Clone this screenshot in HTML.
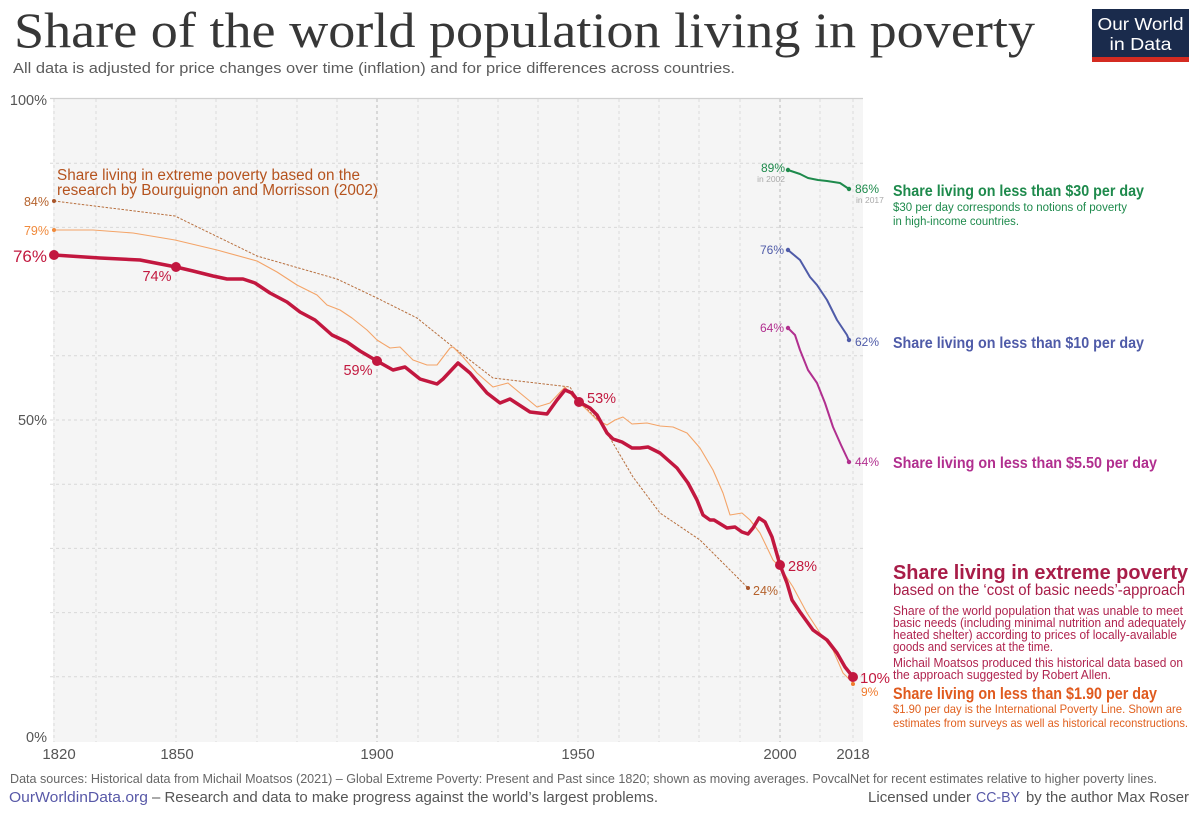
<!DOCTYPE html>
<html>
<head>
<meta charset="utf-8">
<style>
  html,body{margin:0;padding:0;background:#fff;}
  svg{display:block;}
  text{font-family:"Liberation Sans","DejaVu Sans",sans-serif;}
  .serif{font-family:"Liberation Serif","DejaVu Serif",serif;}
</style>
</head>
<body>
<svg width="1198" height="817" viewBox="0 0 1198 817" xmlns="http://www.w3.org/2000/svg">
  <rect x="0" y="0" width="1198" height="817" fill="#fff"/>

  <!-- Title -->
  <text class="serif" x="14" y="47" font-size="50" fill="#373737" textLength="1021" lengthAdjust="spacingAndGlyphs">Share of the world population living in poverty</text>
  <text x="13" y="73" font-size="15" fill="#5b5b5b" textLength="722" lengthAdjust="spacingAndGlyphs">All data is adjusted for price changes over time (inflation) and for price differences across countries.</text>

  <!-- Logo -->
  <rect x="1092" y="9" width="97" height="53" fill="#1a2b4c"/>
  <rect x="1092" y="57" width="97" height="5" fill="#d42b21"/>
  <text x="1140.5" y="30" font-size="17.5" fill="#fff" text-anchor="middle" textLength="86" lengthAdjust="spacingAndGlyphs">Our World</text>
  <text x="1140.5" y="50" font-size="17.5" fill="#fff" text-anchor="middle" textLength="62" lengthAdjust="spacingAndGlyphs">in Data</text>

  <!-- Plot background -->
  <rect x="53" y="99" width="810" height="643" fill="#f5f5f5"/>

  <!-- Horizontal gridlines -->
  <g stroke="#d8d8d8" stroke-width="1" stroke-dasharray="3,3">
    <line x1="50" y1="163.2" x2="863" y2="163.2"/>
    <line x1="50" y1="227.4" x2="863" y2="227.4"/>
    <line x1="50" y1="291.6" x2="863" y2="291.6"/>
    <line x1="50" y1="355.8" x2="863" y2="355.8"/>
    <line x1="50" y1="420" x2="863" y2="420"/>
    <line x1="50" y1="484.2" x2="863" y2="484.2"/>
    <line x1="50" y1="548.4" x2="863" y2="548.4"/>
    <line x1="50" y1="612.6" x2="863" y2="612.6"/>
    <line x1="50" y1="676.8" x2="863" y2="676.8"/>
  </g>
  <line x1="50" y1="98.5" x2="863" y2="98.5" stroke="#d0d0d0" stroke-width="1.2"/>

  <!-- Vertical gridlines -->
  <g stroke="#dadada" stroke-width="1" stroke-dasharray="3,3">
    <line x1="54" y1="99" x2="54" y2="742"/>
    <line x1="96" y1="99" x2="96" y2="742"/>
    <line x1="176" y1="99" x2="176" y2="742"/>
    <line x1="216" y1="99" x2="216" y2="742"/>
    <line x1="257" y1="99" x2="257" y2="742"/>
    <line x1="297" y1="99" x2="297" y2="742"/>
    <line x1="337" y1="99" x2="337" y2="742"/>
    <line x1="418" y1="99" x2="418" y2="742"/>
    <line x1="458" y1="99" x2="458" y2="742"/>
    <line x1="498" y1="99" x2="498" y2="742"/>
    <line x1="538" y1="99" x2="538" y2="742"/>
    <line x1="578" y1="99" x2="578" y2="742"/>
    <line x1="619" y1="99" x2="619" y2="742"/>
    <line x1="659" y1="99" x2="659" y2="742"/>
    <line x1="699" y1="99" x2="699" y2="742"/>
    <line x1="740" y1="99" x2="740" y2="742"/>
    <line x1="820" y1="99" x2="820" y2="742"/>
    <line x1="853" y1="99" x2="853" y2="742"/>
  </g>
  <g stroke="#bcbcbc" stroke-width="1" stroke-dasharray="3,3">
    <line x1="377" y1="99" x2="377" y2="742"/>
    <line x1="780" y1="99" x2="780" y2="742"/>
  </g>

  <!-- Axis labels -->
  <g font-size="14.5" fill="#555">
    <text x="47" y="105" text-anchor="end">100%</text>
    <text x="47" y="425" text-anchor="end">50%</text>
    <text x="47" y="742" text-anchor="end">0%</text>
  </g>
  <g font-size="15" fill="#555" text-anchor="middle">
    <text x="59" y="759">1820</text>
    <text x="177" y="759">1850</text>
    <text x="377" y="759">1900</text>
    <text x="578" y="759">1950</text>
    <text x="780" y="759">2000</text>
    <text x="853" y="759">2018</text>
  </g>

  <!-- Bourguignon & Morrisson dashed -->
  <polyline fill="none" stroke="#b8703f" stroke-width="1" stroke-dasharray="2.5,1.5" points="54,201 175,216 257,256 337,279 377,298 417,318 453,347 493,378 570,387 578,400 600,422 613,443 633,477 660,513 700,540 717,557 748,588"/>
  <circle cx="54" cy="201" r="2" fill="#a9552a"/>
  <circle cx="748" cy="588" r="2" fill="#a9552a"/>

  <!-- $1.90 light orange -->
  <polyline fill="none" stroke="#f4a468" stroke-width="1.1" stroke-linejoin="round" points="54,230 93,230 133,233 175,240 217,250 257,261 277,272 297,285 317,295 327,305 340,310 352,318 367,330 377,340 390,348 400,347 413,360 427,365 437,365 450,348 453,347 463,357 477,373 493,387 508,383 520,393 537,407 550,403 565,387 573,397 587,410 597,420 607,425 615,420 623,417 632,424 647,423 660,426 673,427 687,433 700,448 713,470 723,493 730,515 742,513 750,520 760,533 773,560 780,567 793,587 807,613 820,633 833,650 843,673 853,683"/>
  <circle cx="54" cy="230" r="2" fill="#f08a3c"/>
  <circle cx="853" cy="684" r="2" fill="#f07a2c"/>

  <!-- Main extreme poverty (CBN) -->
  <polyline fill="none" stroke="#c2173f" stroke-width="3.5" stroke-linejoin="round" stroke-linecap="round" points="54,255 100,258 140,260 176,267 193,271 213,276 227,279 243,279 255,283 270,293 287,302 300,312 315,320 332,335 347,342 360,351 377,361 393,370 405,367 420,379 437,384 443,379 458,363 470,373 487,393 500,403 510,399 530,412 547,414 557,400 565,390 572,393 579,402 590,408 597,415 607,433 613,439 622,442 632,448 640,448 648,447 660,453 677,468 688,483 697,500 703,515 710,520 714,520 727,528 735,527 742,532 748,534 753,528 759,518 765,522 772,537 780,565 787,583 792,600 800,612 813,630 827,640 837,653 845,667 853,677"/>
  <g fill="#c2173f">
    <circle cx="54" cy="255" r="5"/>
    <circle cx="176" cy="267" r="5"/>
    <circle cx="377" cy="361" r="5"/>
    <circle cx="579" cy="402" r="5"/>
    <circle cx="780" cy="565" r="5"/>
    <circle cx="853" cy="677" r="5"/>
  </g>

  <!-- $30 green -->
  <polyline fill="none" stroke="#1e8a4c" stroke-width="2" stroke-linejoin="round" points="788,170 800,174 808,178 818,180 827,181 840,183 849,189"/>
  <circle cx="788" cy="170" r="2.2" fill="#1e8a4c"/>
  <circle cx="849" cy="189" r="2.2" fill="#1e8a4c"/>

  <!-- $10 blue -->
  <polyline fill="none" stroke="#4f5ba8" stroke-width="2" stroke-linejoin="round" points="788,250 800,260 810,277 817,285 827,300 837,320 847,335 849,340"/>
  <circle cx="788" cy="250" r="2.2" fill="#4f5ba8"/>
  <circle cx="849" cy="340" r="2.2" fill="#4f5ba8"/>

  <!-- $5.50 purple -->
  <polyline fill="none" stroke="#b12f8f" stroke-width="2" stroke-linejoin="round" points="788,328 795,335 800,350 808,370 817,383 825,403 833,427 841,445 849,462"/>
  <circle cx="788" cy="328" r="2.2" fill="#b12f8f"/>
  <circle cx="849" cy="462" r="2.2" fill="#b12f8f"/>

  <!-- Left annotation -->
  <text x="57" y="180" font-size="15.5" fill="#b5531e" textLength="303" lengthAdjust="spacingAndGlyphs">Share living in extreme poverty based on the</text>
  <text x="57" y="195" font-size="15.5" fill="#b5531e" textLength="321" lengthAdjust="spacingAndGlyphs">research by Bourguignon and Morrisson (2002)</text>

  <!-- Value labels -->
  <text x="49" y="206" font-size="12.5" fill="#b5622c" text-anchor="end">84%</text>
  <text x="49" y="235" font-size="12.5" fill="#f08a3c" text-anchor="end">79%</text>
  <text x="47" y="262" font-size="17" fill="#c2193f" text-anchor="end">76%</text>
  <text x="157" y="281" font-size="14.5" fill="#c2193f" text-anchor="middle">74%</text>
  <text x="358" y="375" font-size="14.5" fill="#c2193f" text-anchor="middle">59%</text>
  <text x="587" y="403" font-size="14.5" fill="#c2193f">53%</text>
  <text x="788" y="571" font-size="14.5" fill="#c2193f">28%</text>
  <text x="753" y="595" font-size="12.5" fill="#b5622c">24%</text>
  <text x="860" y="683" font-size="15" fill="#c2193f">10%</text>
  <text x="861" y="696" font-size="12" fill="#f07a2c">9%</text>

  <text x="785" y="172" font-size="12" fill="#1e8a4c" text-anchor="end">89%</text>
  <text x="785" y="182" font-size="8.5" fill="#aaa" text-anchor="end">in 2002</text>
  <text x="855" y="193" font-size="12" fill="#1e8a4c">86%</text>
  <text x="856" y="203" font-size="8.5" fill="#aaa">in 2017</text>
  <text x="784" y="254" font-size="12" fill="#4f5ba8" text-anchor="end">76%</text>
  <text x="855" y="346" font-size="12" fill="#4f5ba8">62%</text>
  <text x="784" y="332" font-size="12" fill="#b12f8f" text-anchor="end">64%</text>
  <text x="855" y="466" font-size="12" fill="#b12f8f">44%</text>

  <!-- Right annotations -->
  <text x="893" y="196" font-size="15.5" font-weight="bold" fill="#1e8a4c" textLength="251" lengthAdjust="spacingAndGlyphs">Share living on less than $30 per day</text>
  <text x="893" y="211" font-size="11.5" fill="#1e8a4c" textLength="234" lengthAdjust="spacingAndGlyphs">$30 per day corresponds to notions of poverty</text>
  <text x="893" y="225" font-size="11.5" fill="#1e8a4c" textLength="126" lengthAdjust="spacingAndGlyphs">in high-income countries.</text>

  <text x="893" y="348" font-size="15.5" font-weight="bold" fill="#4f5ba8" textLength="251" lengthAdjust="spacingAndGlyphs">Share living on less than $10 per day</text>
  <text x="893" y="468" font-size="15.5" font-weight="bold" fill="#b12f8f" textLength="264" lengthAdjust="spacingAndGlyphs">Share living on less than $5.50 per day</text>

  <text x="893" y="579" font-size="20" font-weight="bold" fill="#a81d48" textLength="295" lengthAdjust="spacingAndGlyphs">Share living in extreme poverty</text>
  <text x="893" y="595" font-size="16" fill="#a81d48" textLength="292" lengthAdjust="spacingAndGlyphs">based on the ‘cost of basic needs’-approach</text>
  <g font-size="12.5" fill="#b0244f">
    <text x="893" y="615" textLength="290" lengthAdjust="spacingAndGlyphs">Share of the world population that was unable to meet</text>
    <text x="893" y="627" textLength="293" lengthAdjust="spacingAndGlyphs">basic needs (including minimal nutrition and adequately</text>
    <text x="893" y="639" textLength="284" lengthAdjust="spacingAndGlyphs">heated shelter) according to prices of locally-available</text>
    <text x="893" y="651" textLength="160" lengthAdjust="spacingAndGlyphs">goods and services at the time.</text>
    <text x="893" y="667" textLength="290" lengthAdjust="spacingAndGlyphs">Michail Moatsos produced this historical data based on</text>
    <text x="893" y="679" textLength="218" lengthAdjust="spacingAndGlyphs">the approach suggested by Robert Allen.</text>
  </g>
  <text x="893" y="699" font-size="17" font-weight="bold" fill="#e05a1e" textLength="264" lengthAdjust="spacingAndGlyphs">Share living on less than $1.90 per day</text>
  <text x="893" y="713" font-size="12" fill="#e0601f" textLength="289" lengthAdjust="spacingAndGlyphs">$1.90 per day is the International Poverty Line. Shown are</text>
  <text x="893" y="727" font-size="12" fill="#e0601f" textLength="295" lengthAdjust="spacingAndGlyphs">estimates from surveys as well as historical reconstructions.</text>

  <!-- Footer -->
  <text x="10" y="783" font-size="12.5" fill="#666" textLength="1147" lengthAdjust="spacingAndGlyphs">Data sources: Historical data from Michail Moatsos (2021) – Global Extreme Poverty: Present and Past since 1820; shown as moving averages. PovcalNet for recent estimates relative to higher poverty lines.</text>
  <text x="9" y="802" font-size="15" fill="#5859a8" textLength="139" lengthAdjust="spacingAndGlyphs">OurWorldinData.org</text>
  <text x="152" y="802" font-size="15" fill="#555" textLength="506" lengthAdjust="spacingAndGlyphs">– Research and data to make progress against the world’s largest problems.</text>
  <text x="868" y="802" font-size="15" fill="#555" textLength="103" lengthAdjust="spacingAndGlyphs">Licensed under</text>
  <text x="976" y="802" font-size="15" fill="#5859a8" textLength="44" lengthAdjust="spacingAndGlyphs">CC-BY</text>
  <text x="1026" y="802" font-size="15" fill="#555" textLength="163" lengthAdjust="spacingAndGlyphs">by the author Max Roser</text>
</svg>
</body>
</html>
